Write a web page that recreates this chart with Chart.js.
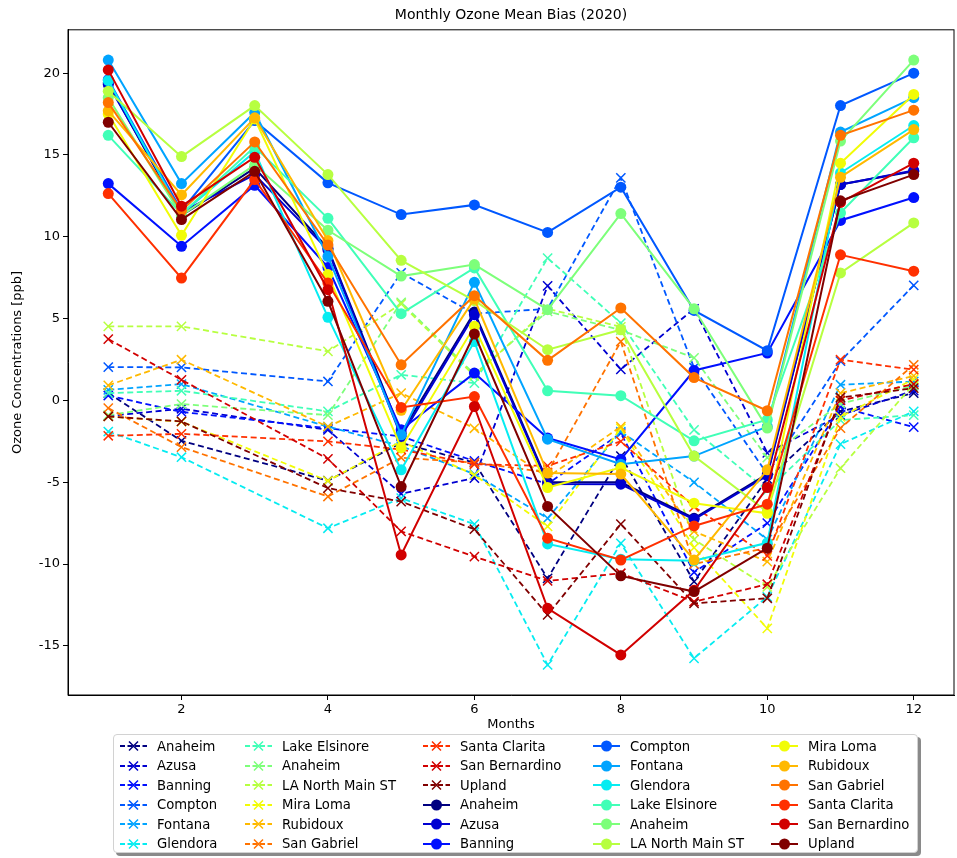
<!DOCTYPE html>
<html lang="en">
<head>
<meta charset="UTF-8">
<title>Monthly Ozone Mean Bias (2020)</title>
<script src="https://cdn.jsdelivr.net/npm/chart.js@4.4.3/dist/chart.umd.min.js"></script>
<style>
    * { margin: 0; padding: 0; }
    body {
        width: 957px;
        height: 858px;
        overflow: hidden;
        background: #fff;
        position: relative;
        font-family: "DejaVu Sans", sans-serif;
    }
    #myChart { position: absolute; left: 0; top: 0; }
    .legendBox {
        position: absolute;
        left: 113px;
        top: 734px;
        width: 803px;
        height: 117px;
        background: #fff;
        border: 1px solid #d2d2d2;
        border-radius: 4px;
        box-shadow: 3px 3px 0 #8a8a8a;
    }
    .legendItem {
        position: absolute;
        height: 18px;
        display: flex;
        align-items: center;
        font-size: 13.2px;
        color: #000;
        white-space: nowrap;
    }
    .legendItem svg { margin-right: 10px; }
</style>
</head>
<body>
<canvas id="myChart" width="962" height="858"></canvas>
<div class="legendBox" id="legend"></div>
<script>
    // ---- data ----
    const months = [1, 2, 3, 4, 5, 6, 7, 8, 9, 10, 11, 12];
    const stations = ['Anaheim', 'Azusa', 'Banning', 'Compton', 'Fontana', 'Glendora', 'Lake Elsinore',
        'Anaheim', 'LA North Main ST', 'Mira Loma', 'Rubidoux', 'San Gabriel', 'Santa Clarita',
        'San Bernardino', 'Upland'];
    const xTicks = [2, 4, 6, 8, 10, 12];
    const yTicks = [-15, -10, -5, 0, 5, 10, 15, 20];

    // dashed series (x markers) - no value for March
    const dAnaheim      = [0.45, -2.47, null, -4.9, -2.6, -3.8, -10.87, -3.4, -11.07, -4.8, -0.67, 0.45];
    const dAzusa        = [-0.95, -0.51, null, -1.8, -5.7, -4.75, 7.0, 1.9, 5.6, -3.2, -0.9, 0.6];
    const dBanning      = [0.3, -0.7, null, -1.7, -2.2, -3.7, -5.1, -2.0, -10.5, -7.5, -0.4, -1.63];
    const dCompton      = [2.04, 2.02, null, 1.16, 7.8, 5.3, 5.6, 13.6, 2.0, -4.5, 2.4, 7.03];
    const dFontana      = [0.65, 1.0, null, -1.6, -2.8, -4.5, -7.2, -1.9, -5.0, -8.5, 0.96, 1.16];
    const dGlendora     = [-1.9, -3.47, null, -7.81, -5.97, -7.56, -16.16, -8.73, -15.76, -12.0, -2.67, -0.67];
    const dLakeElsinore = [0.45, 0.59, null, -0.67, 1.57, 1.06, 8.7, 4.73, -1.8, -5.5, -1.2, -0.9];
    const dAnaheim2     = [-0.9, -0.22, null, -0.9, 6.0, 1.6, 5.44, 4.3, 2.6, -3.5, -0.2, 0.9];
    const dLANorth      = [4.53, 4.53, null, 3.0, 5.9, 1.5, 5.6, 4.5, -8.5, -11.4, -4.14, 1.0];
    const dMiraLoma     = [-0.98, -1.3, null, -4.91, -2.5, -4.55, -7.7, -1.7, -9.0, -13.93, -1.0, 1.3];
    const dRubidoux     = [0.92, 2.49, null, -1.6, 0.45, -1.7, -4.7, -1.6, -8.0, -9.85, 0.45, 1.5];
    const dSanGabriel   = [-0.47, -2.85, null, -5.87, -3.5, -3.8, -4.4, 3.6, -10.0, -9.0, -1.69, 2.18];
    const dSantaClarita = [-2.16, -2.04, null, -2.5, -3.0, -3.9, -4.0, -2.5, -6.5, -9.5, 2.49, 1.88];
    const dSanBern      = [3.75, 1.26, null, -3.57, -8.0, -9.54, -11.03, -10.56, -12.3, -11.23, 0.0, 1.0];
    const dUpland       = [-0.98, -1.28, null, -5.36, -6.18, -7.87, -13.1, -7.56, -12.4, -12.09, 0.18, 0.75];

    // solid series (o markers)
    const sAnaheim      = [19.4, 11.3, 14.2, 9.3, -2.0, 5.4, -5.0, -5.0, -7.2, -4.5, 13.2, 14.0];
    const sAzusa        = [19.3, 11.5, 13.8, 9.2, -2.2, 5.24, -5.1, -5.12, -7.26, -4.6, 13.19, 14.05];
    const sBanning      = [13.25, 9.42, 13.15, 8.13, -1.79, 1.67, -2.3, -3.6, 1.83, 2.9, 11.0, 12.4];
    const sCompton      = [19.6, 11.6, 17.1, 13.3, 11.36, 11.95, 10.27, 13.03, 5.5, 3.04, 18.02, 20.0];
    const sFontana      = [20.8, 13.25, 17.6, 8.8, -2.1, 7.22, -2.37, -3.9, -3.4, -1.6, 16.4, 18.5];
    const sGlendora     = [19.55, 11.4, 15.2, 5.08, -4.24, 3.6, -8.77, -9.7, -9.8, -8.7, 13.9, 16.8];
    const sLakeElsinore = [16.2, 11.4, 15.5, 11.13, 5.3, 8.1, 0.59, 0.29, -2.47, -1.18, 11.46, 16.05];
    const sAnaheim2     = [18.5, 11.3, 14.4, 10.4, 7.6, 8.3, 5.55, 11.42, 5.6, -1.69, 15.85, 20.8];
    const sLANorth      = [18.9, 14.9, 18.02, 13.8, 8.56, 6.1, 3.1, 4.32, -3.4, -6.8, 7.79, 10.85];
    const sMiraLoma     = [17.5, 10.09, 17.2, 7.69, -2.9, 4.53, -5.32, -4.1, -6.28, -6.9, 14.5, 18.7];
    const sRubidoux     = [17.7, 12.56, 17.27, 9.77, -0.6, 6.2, -4.44, -4.5, -9.75, -4.24, 13.64, 16.55];
    const sSanGabriel   = [18.2, 11.6, 15.8, 9.5, 2.18, 6.4, 2.45, 5.65, 1.4, -0.63, 16.2, 17.74];
    const sSantaClarita = [12.64, 7.48, 13.5, 7.18, -0.43, 0.24, -8.42, -9.75, -7.67, -6.34, 8.9, 7.9];
    const sSanBern      = [20.2, 11.87, 14.86, 6.77, -9.44, -0.37, -12.7, -15.55, -11.6, -5.32, 12.1, 14.5];
    const sUpland       = [17.0, 11.05, 14.0, 6.06, -5.26, 4.06, -6.48, -10.72, -11.68, -9.03, 12.2, 13.8];

    const dashedBias = [dAnaheim, dAzusa, dBanning, dCompton, dFontana, dGlendora, dLakeElsinore,
        dAnaheim2, dLANorth, dMiraLoma, dRubidoux, dSanGabriel, dSantaClarita, dSanBern, dUpland];
    const solidBias = [sAnaheim, sAzusa, sBanning, sCompton, sFontana, sGlendora, sLakeElsinore,
        sAnaheim2, sLANorth, sMiraLoma, sRubidoux, sSanGabriel, sSantaClarita, sSanBern, sUpland];

    // jet colormap, 15 steps
    const jet = ['#000080', '#0000d1', '#0010ff', '#0058ff', '#00a4ff', '#06ecf1', '#40ffb7', '#7dff7a',
        '#b7ff40', '#f1fc06', '#ffb900', '#ff7300', '#ff3000', '#d10000', '#800000'];

    // ---- datasets ----
    const datasets = [];
    const toPoints = vals => months.map((m, k) => ({ x: m, y: vals[k] }));

    dashedBias.forEach((vals, i) => {
        datasets.push({
            label: stations[i],
            data: toPoints(vals),
            borderColor: jet[i],
            backgroundColor: jet[i],
            borderWidth: 1.8,
            borderDash: [6, 3.5],
            pointStyle: 'crossRot',
            pointRadius: 6.5,
            pointBorderWidth: 1.5,
            spanGaps: true,
            dashed: true
        });
    });
    solidBias.forEach((vals, i) => {
        datasets.push({
            label: stations[i],
            data: toPoints(vals),
            borderColor: jet[i],
            backgroundColor: jet[i],
            borderWidth: 2,
            pointStyle: 'circle',
            pointRadius: 5.5,
            pointBorderWidth: 0,
            dashed: false
        });
    });
    // later series on top, like matplotlib
    datasets.forEach((ds, i) => { ds.order = datasets.length - 1 - i; });

    const framePlugin = {
        id: 'frame',
        afterDraw(chart) {
            const { ctx, chartArea: a } = chart;
            ctx.save();
            ctx.strokeStyle = '#000';
            ctx.lineWidth = 1;
            ctx.strokeRect(a.left, a.top, a.right - a.left, a.bottom - a.top);
            ctx.restore();
        }
    };

    const tickFont = { family: '"DejaVu Sans", sans-serif', size: 13 };

    new Chart(document.getElementById('myChart'), {
        type: 'line',
        data: { datasets },
        options: {
            responsive: false,
            animation: false,
            events: [],
            layout: { padding: { left: 0, right: 4, top: 0, bottom: 0 } },
            plugins: {
                legend: { display: false },
                tooltip: { enabled: false },
                title: {
                    display: true,
                    fullSize: false,
                    text: 'Monthly Ozone Mean Bias (2020)',
                    color: '#000',
                    font: { family: '"DejaVu Sans", sans-serif', size: 14, weight: 'normal' },
                    padding: { top: 7, bottom: 6 }
                }
            },
            scales: {
                x: {
                    type: 'linear',
                    min: 0.45,
                    max: 12.55,
                    afterBuildTicks: s => { s.ticks = xTicks.map(v => ({ value: v })); },
                    afterFit: s => { s.height = 163; },
                    grid: { drawOnChartArea: false, tickLength: 5, color: '#000' },
                    border: { color: '#000', width: 1 },
                    ticks: { font: tickFont, color: '#000', padding: 2, maxRotation: 0 },
                    title: { display: true, text: 'Months', color: '#000', font: tickFont, padding: { top: 0, bottom: 126 } }
                },
                y: {
                    min: -18.0,
                    max: 22.65,
                    afterBuildTicks: s => { s.ticks = yTicks.map(v => ({ value: v })); },
                    afterFit: s => { s.width = 68; },
                    grid: { drawOnChartArea: false, tickLength: 5, color: '#000' },
                    border: { color: '#000', width: 1 },
                    ticks: { font: tickFont, color: '#000', padding: 3 },
                    title: { display: true, text: 'Ozone Concentrations [ppb]', color: '#000', font: tickFont, padding: { top: 10, bottom: 0 } }
                }
            }
        },
        plugins: [framePlugin]
    });

    // ---- legend (5 columns x 6 rows, column-major like matplotlib) ----
    const colLeft = [6, 131, 309, 479, 657];
    const rowMid = [11, 30.5, 50, 69.5, 89, 108.5];
    const legend = document.getElementById('legend');

    const swatch = (color, dashed) => {
        const line = `<line x1="0" y1="9" x2="27" y2="9" stroke="${color}" stroke-width="2"${dashed ? ' stroke-dasharray="5 2.5"' : ''}/>`;
        const mark = dashed
            ? `<path d="M9 4.5 L18 13.5 M18 4.5 L9 13.5" stroke="${color}" stroke-width="1.5"/>`
            : `<circle cx="13.5" cy="9" r="5.5" fill="${color}"/>`;
        return `<svg width="27" height="18" viewBox="0 0 27 18">${line}${mark}</svg>`;
    };

    datasets.forEach((ds, i) => {
        const col = Math.floor(i / 6);
        const row = i % 6;
        const item = document.createElement('div');
        item.className = 'legendItem';
        item.style.left = colLeft[col] + 'px';
        item.style.top = (rowMid[row] - 9) + 'px';
        item.innerHTML = swatch(ds.borderColor, ds.dashed) + '<span></span>';
        item.querySelector('span').textContent = ds.label;
        legend.appendChild(item);
    });
</script>
</body>
</html>
